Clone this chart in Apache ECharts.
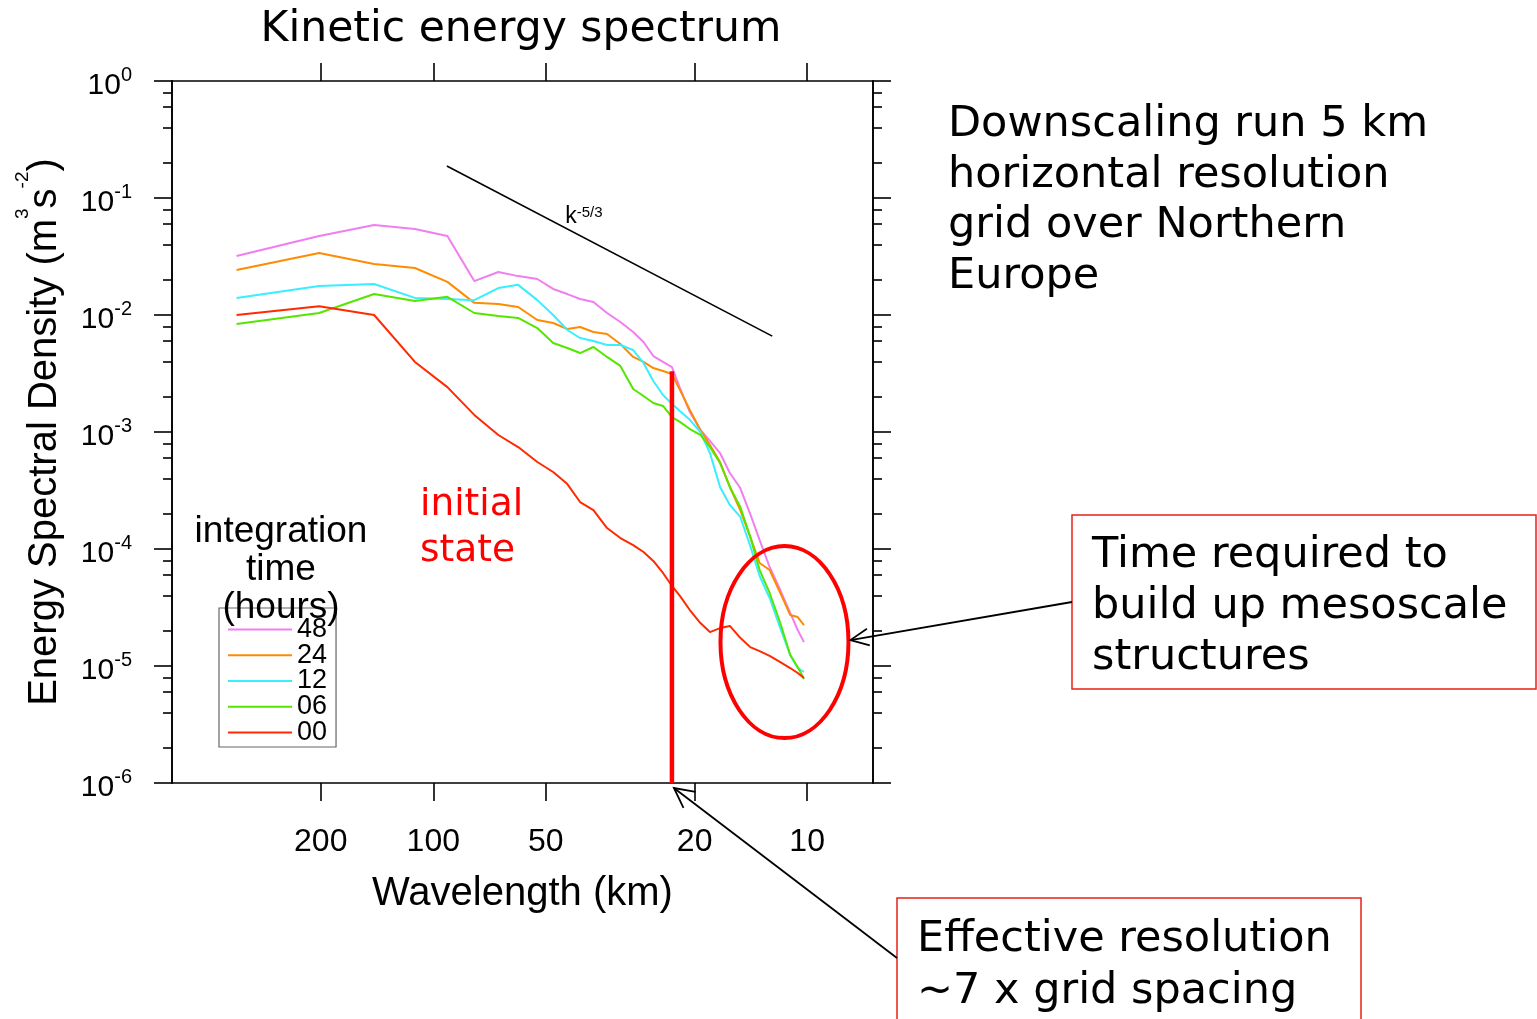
<!DOCTYPE html>
<html><head><meta charset="utf-8">
<script src="https://cdn.jsdelivr.net/npm/echarts/dist/echarts.min.js"></script>
<style>html,body{margin:0;padding:0;background:#fff}#c{width:1537px;height:1019px}</style>
</head><body><div id="c"></div>
<script>
// ---- data ----
const wavelength = [336, 202, 144, 112, 91.7, 77.7, 67.0, 59.3, 52.7, 47.8, 43.8, 40.5, 37.3, 34.3, 31.6, 29.2, 27.4, 25.8, 24.3, 23.0, 21.9, 20.6, 19.3, 18.2, 17.1, 16.1, 15.1, 14.2, 13.4, 12.6, 11.8, 11.1, 10.6, 10.2];
const e48 = [0.0319,0.0473,0.0588,0.0543,0.0473,0.0195,0.0233,0.0215,0.0203,0.0167,0.0151,0.0137,0.0129,0.0104,0.00871,0.00716,0.00588,0.00446,0.00397,0.00359,0.00238,0.00148,0.00104,0.000838,0.000661,0.000446,0.000332,0.000199,0.000119,0.0000702,0.0000446,0.0000284,0.0000203,0.0000160];
const e24 = [0.0242,0.0339,0.0273,0.0252,0.0192,0.0127,0.0124,0.0117,0.00907,0.00854,0.00759,0.00790,0.00716,0.00688,0.00565,0.00438,0.00397,0.00352,0.00332,0.00313,0.00229,0.00154,0.00104,0.000774,0.000554,0.000339,0.000215,0.000127,0.0000759,0.0000661,0.0000421,0.0000273,0.0000262,0.0000224];
const e12 = [0.0140,0.0177,0.0184,0.0140,0.0137,0.0134,0.0170,0.0181,0.0134,0.0100,0.00744,0.00636,0.00600,0.00554,0.00554,0.00502,0.00389,0.00273,0.00207,0.00174,0.00151,0.00127,0.00100,0.000661,0.000339,0.000238,0.000188,0.000106,0.0000588,0.0000381,0.0000211,0.0000124,0.00000961,0.00000889];
const e06 = [0.00838,0.0104,0.0151,0.0132,0.0143,0.0104,0.00981,0.00943,0.00774,0.00576,0.00522,0.00473,0.00533,0.00438,0.00367,0.00233,0.00203,0.00177,0.00167,0.00134,0.00122,0.00106,0.000943,0.000744,0.000543,0.000339,0.000229,0.000127,0.0000661,0.0000421,0.0000233,0.0000124,0.00000981,0.00000774];
const e00 = [0.0100,0.0119,0.0100,0.00397,0.00242,0.00140,0.000943,0.000744,0.000554,0.000455,0.000359,0.000252,0.000215,0.000151,0.000124,0.000108,0.0000943,0.0000790,0.0000624,0.0000483,0.0000397,0.0000301,0.0000233,0.0000195,0.0000211,0.0000220,0.0000174,0.0000145,0.0000134,0.0000122,0.0000108,0.00000961,0.00000871,0.00000790];
const seriesNames = ['48', '24', '12', '06', '00'];
const xTickValues = [200, 100, 50, 20, 10];
const yTickValues = [1e-6, 1e-5, 1e-4, 1e-3, 1e-2, 1e-1, 1];
const yMinorValues = [2e-6,4e-6,6e-6,8e-6, 2e-5,4e-5,6e-5,8e-5, 2e-4,4e-4,6e-4,8e-4, 2e-3,4e-3,6e-3,8e-3, 2e-2,4e-2,6e-2,8e-2, 0.2,0.4,0.6,0.8];
const xMin = 6.6667, xMax = 500;
const slopeWavelength = [92, 12.4];
const slopeValue = [0.188, 0.0066];
const slopeLabelAt = [44.4, 0.0871];
const effResWavelength = 23.0;
const effResTop = 0.0033;
const ellipseCenter = [11.5, 0.0000160];

// ---- chart ----
const F = '"Liberation Sans", Arial, sans-serif';
const V = '"DejaVu Sans", Verdana, sans-serif';
const chart = echarts.init(document.getElementById('c'));
const colors = {'48':'#F07EF0','24':'#FF8C00','12':'#38EEFF','06':'#55E600','00':'#FF2A00'};
const vals = {'48':e48,'24':e24,'12':e12,'06':e06,'00':e00};
const line = {show:true, onZero:false, lineStyle:{color:'#000', width:1.6}};
function tick(len, values){ return {show:true, inside:false, length:len, customValues:values, lineStyle:{color:'#000', width:1.6}}; }

const xBase = {type:'log', inverse:true, min:xMin, max:xMax, logBase:10, axisLine:line, splitLine:{show:false}, minorTick:{show:false}, minorSplitLine:{show:false}};
const yBase = {type:'log', min:1e-6, max:1, logBase:10, axisLine:line, splitLine:{show:false}, minorTick:{show:false}, minorSplitLine:{show:false}};

const series = seriesNames.map(n => ({
  name:n, type:'line', symbol:'none', xAxisIndex:0, yAxisIndex:0,
  data: wavelength.map((w,i)=>[w, vals[n][i]]),
  lineStyle:{color:colors[n], width:2}, itemStyle:{color:colors[n]}, z:3
}));
series.push({type:'line', symbol:'none', silent:true, xAxisIndex:0, yAxisIndex:0,
  data: slopeWavelength.map((w,i)=>[w, slopeValue[i]]), lineStyle:{color:'#000', width:1.6}, z:2});
series.push({type:'line', symbol:'none', silent:true, xAxisIndex:0, yAxisIndex:0,
  data: [[effResWavelength, 1e-6],[effResWavelength, effResTop]], lineStyle:{color:'#FF0000', width:4.5}, z:4});

chart.setOption({
  animation:false,
  grid:{left:172, right:664, top:81, bottom:236},
  xAxis:[
    Object.assign({}, xBase, {position:'bottom', axisTick:tick(18, xTickValues),
      axisLabel:{show:true, customValues:xTickValues, formatter:v=>String(Math.round(v)), fontSize:32, fontFamily:F, color:'#000', margin:43, lineHeight:32},
      name:'Wavelength (km)', nameLocation:'middle', nameGap:91, nameTextStyle:{fontSize:40, fontFamily:F, color:'#000', lineHeight:40}}),
    Object.assign({}, xBase, {position:'top', axisTick:tick(18, xTickValues), axisLabel:{show:false}})
  ],
  yAxis:[
    Object.assign({}, yBase, {position:'left', axisTick:tick(18, yTickValues),
      axisLabel:{show:true, customValues:yTickValues, margin:40, color:'#000',
        formatter:v=>'{b|10}{s|' + Math.round(Math.log10(v)) + '}',
        rich:{b:{fontSize:30, fontFamily:F, color:'#000', lineHeight:30, padding:[9,0,0,0]},
              s:{fontSize:20, fontFamily:F, color:'#000', lineHeight:20, padding:[4,0,15,0]}}},
      name:'{a|Energy Spectral Density (m}{s|3}{a|s}{s|-2}{a|)}', nameLocation:'middle', nameGap:113,
      nameTextStyle:{color:'#000', rich:{a:{fontSize:40, fontFamily:F, color:'#000', lineHeight:42, padding:[14,0,0,0]},
                                        s:{fontSize:19, fontFamily:F, color:'#000', lineHeight:19, padding:[3,0,34,0]}}}}),
    Object.assign({}, yBase, {position:'left', axisTick:tick(9, yMinorValues), axisLabel:{show:false}}),
    Object.assign({}, yBase, {position:'right', axisTick:tick(18, yTickValues), axisLabel:{show:false}}),
    Object.assign({}, yBase, {position:'right', axisTick:tick(9, yMinorValues), axisLabel:{show:false}})
  ],
  legend:{data:seriesNames, orient:'vertical', left:219, top:608, padding:[8,9,1,9], itemGap:-1.25, itemWidth:64, itemHeight:2, icon:'rect',
    borderColor:'#666', borderWidth:1.2, textStyle:{fontSize:27, fontFamily:F, color:'#000'}},
  series:series
});

const p = (w,v) => chart.convertToPixel({xAxisIndex:0, yAxisIndex:0}, [w,v]);
const ell = p(ellipseCenter[0], ellipseCenter[1]);
const effBottom = p(effResWavelength, 1e-6);
const kp = p(slopeLabelAt[0], slopeLabelAt[1]);

function arrow(x1,y1,x2,y2,len,ang){
  const a = Math.atan2(y1-y2, x1-x2), r = ang*Math.PI/180;
  return [
    {type:'line', shape:{x1,y1,x2,y2}, style:{stroke:'#000', lineWidth:1.8}, z:10},
    {type:'polyline', shape:{points:[[x2+len*Math.cos(a+r), y2+len*Math.sin(a+r)],[x2,y2],[x2+len*Math.cos(a-r), y2+len*Math.sin(a-r)]]}, style:{stroke:'#000', lineWidth:1.8, fill:'none'}, z:10}
  ];
}
function txt(x,y,text,size,fam,color,align,lh){
  return {type:'text', x, y, z:10, style:{text, fontSize:size, fontFamily:fam, fill:color, align:align, verticalAlign:'top', lineHeight:lh}};
}

chart.setOption({graphic:[
  txt(521, 8, 'Kinetic energy spectrum', 42.5, V, '#000', 'center', 44),
  txt(948, 100, 'Downscaling run 5 km\nhorizontal resolution\ngrid over Northern\nEurope', 43, V, '#000', 'left', 50.5),
  txt(420, 482, 'initial\nstate', 37.5, V, '#FF0000', 'left', 46),
  txt(281, 513, 'integration\ntime\n(hours)', 37, F, '#000', 'center', 38),
  {type:'text', x:kp[0], y:kp[1], z:10, style:{text:'{k|k}{s|-5/3}', align:'left', verticalAlign:'top',
     rich:{k:{fontSize:23, fontFamily:F, fill:'#000', lineHeight:24}, s:{fontSize:15, fontFamily:F, fill:'#000', lineHeight:15, padding:[0,0,9,0]}}}},
  {type:'ellipse', shape:{cx:ell[0], cy:ell[1], rx:64, ry:96}, style:{fill:'none', stroke:'#FF0000', lineWidth:4}, z:10},
  {type:'rect', shape:{x:1072, y:515, width:464, height:174}, style:{fill:'none', stroke:'#E8201A', lineWidth:1.5}, z:10},
  txt(1092, 530, 'Time required to\nbuild up mesoscale\nstructures', 43, V, '#000', 'left', 51),
  {type:'rect', shape:{x:897, y:898, width:464, height:140}, style:{fill:'none', stroke:'#E8201A', lineWidth:1.5}, z:10},
  txt(917, 913.5, 'Effective resolution\n~7 x grid spacing', 43, V, '#000', 'left', 52),
  ...arrow(1072, 602, ell[0]+66, ell[1]-2, 20, 25),
  ...arrow(897, 958, effBottom[0]+2, effBottom[1]+5, 22, 27)
]});
</script></body></html>
